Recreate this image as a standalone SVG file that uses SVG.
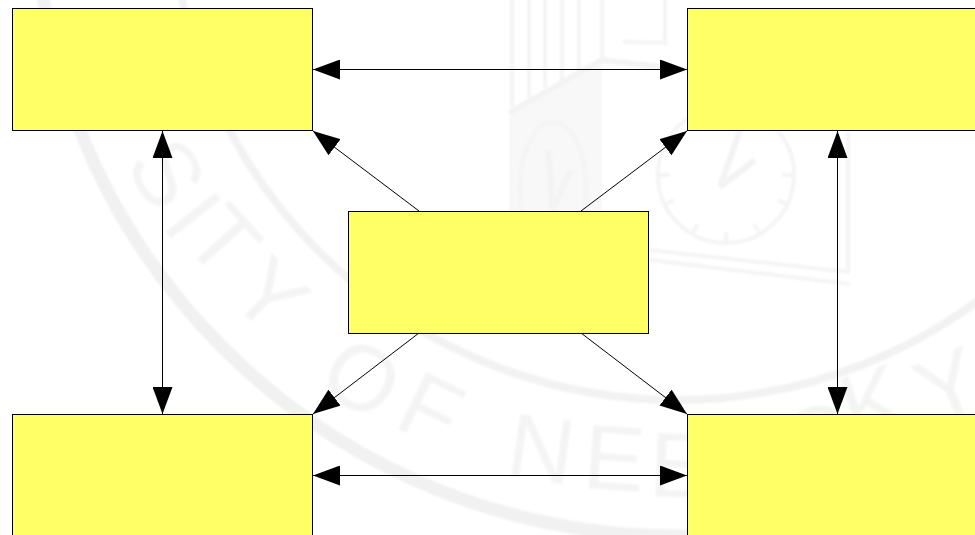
<svg xmlns="http://www.w3.org/2000/svg" width="975" height="535" viewBox="0 0 975 535">
<style>
.box{fill:#ffff66;stroke:#000;stroke-width:1}
.c{fill:none;stroke:#000;stroke-width:1}
.ring{fill:none;stroke:#f1f1f1;stroke-width:13}
.ring2{fill:none;stroke:#f2f2f2;stroke-width:8}
.wm{fill:none;stroke:#f4f4f4;stroke-width:4}
.wb{fill:none;stroke:#f3f3f3;stroke-width:6}
.wl{fill:#f4f4f4;font-family:"Liberation Sans",Arial,sans-serif;font-size:92px;text-anchor:middle}
</style>
<defs>
<marker id="ah" markerUnits="userSpaceOnUse" markerWidth="28" markerHeight="20" refX="27" refY="10" orient="auto-start-reverse">
<path d="M0 0L27 10L0 20Z" fill="#000"/>
</marker>
<filter id="soft" x="0" y="0" width="100%" height="100%"><feGaussianBlur stdDeviation="0.9"/></filter>
</defs>
<rect width="975" height="535" fill="#fff"/>
<g id="watermark" filter="url(#soft)">
<circle class="ring" cx="677" cy="-106" r="642"/>
<circle class="ring2" cx="677" cy="-106" r="506"/>
<text class="wl" transform="translate(140,190) rotate(58)">S</text>
<text class="wl" transform="translate(168,235) rotate(52)">I</text>
<text class="wl" transform="translate(200,262) rotate(48)">T</text>
<text class="wl" transform="translate(248,318) rotate(44)">Y</text>
<text class="wl" transform="translate(345,405) rotate(32)">O</text>
<text class="wl" transform="translate(417,438) rotate(26)">F</text>
<text class="wl" transform="translate(537,480) rotate(8)">N</text>
<text class="wl" transform="translate(612,490) rotate(4)">E</text>
<text class="wl" transform="translate(679,497) rotate(2)">B</text>
<text class="wl" transform="translate(825,470) rotate(-14)">C</text>
<text class="wl" transform="translate(882,432) rotate(-18)">K</text>
<text class="wl" transform="translate(960,415) rotate(-22)">Y</text>
<path fill="#f8f8f8" d="M509 116L602 64V215H509Z"/>
<path class="wm" d="M512 0V107M529 0V98M545 0V88M562 0V80M579 0V72M602 0V60"/>
<path class="wb" d="M509 113L602 60L687 70"/>
<ellipse class="wm" cx="553" cy="188" rx="33" ry="66"/>
<path class="wb" d="M553 210L570 170M553 210L548 150"/>
<circle class="wm" cx="726" cy="175" r="68"/>
<path class="wb" d="M720 187L755 160M720 187L740 130"/>
<path class="wm" d="M726 243V232M692 234L698 224M760 234L754 224M664 205L674 200M788 205L778 200M658 175H670M794 175H782"/>
<path class="wm" d="M650 250L848 272V132M650 260L850 284"/>
<path class="wm" d="M623 42L665 43V0"/>
</g>
<g id="connectors">
<line class="c" x1="313" y1="69.5" x2="687" y2="69.5" marker-start="url(#ah)" marker-end="url(#ah)"/>
<line class="c" x1="313" y1="475.5" x2="687" y2="475.5" marker-start="url(#ah)" marker-end="url(#ah)"/>
<line class="c" x1="162.5" y1="131" x2="162.5" y2="414" marker-start="url(#ah)" marker-end="url(#ah)"/>
<line class="c" x1="837.5" y1="131" x2="837.5" y2="414" marker-start="url(#ah)" marker-end="url(#ah)"/>
<line class="c" x1="419" y1="211" x2="313" y2="131" marker-end="url(#ah)"/>
<line class="c" x1="581" y1="211" x2="687" y2="131" marker-end="url(#ah)"/>
<line class="c" x1="419" y1="333" x2="313" y2="414" marker-end="url(#ah)"/>
<line class="c" x1="581" y1="333" x2="687" y2="414" marker-end="url(#ah)"/>
</g>
<g id="node-top-left"><rect class="box" x="12.5" y="8.5" width="300" height="122"/></g>
<g id="node-top-right"><rect class="box" x="687.5" y="8.5" width="300" height="122"/></g>
<g id="node-center"><rect class="box" x="348.5" y="211.5" width="300" height="122"/></g>
<g id="node-bottom-left"><rect class="box" x="12.5" y="414.5" width="300" height="122"/></g>
<g id="node-bottom-right"><rect class="box" x="687.5" y="414.5" width="300" height="122"/></g>
</svg>
